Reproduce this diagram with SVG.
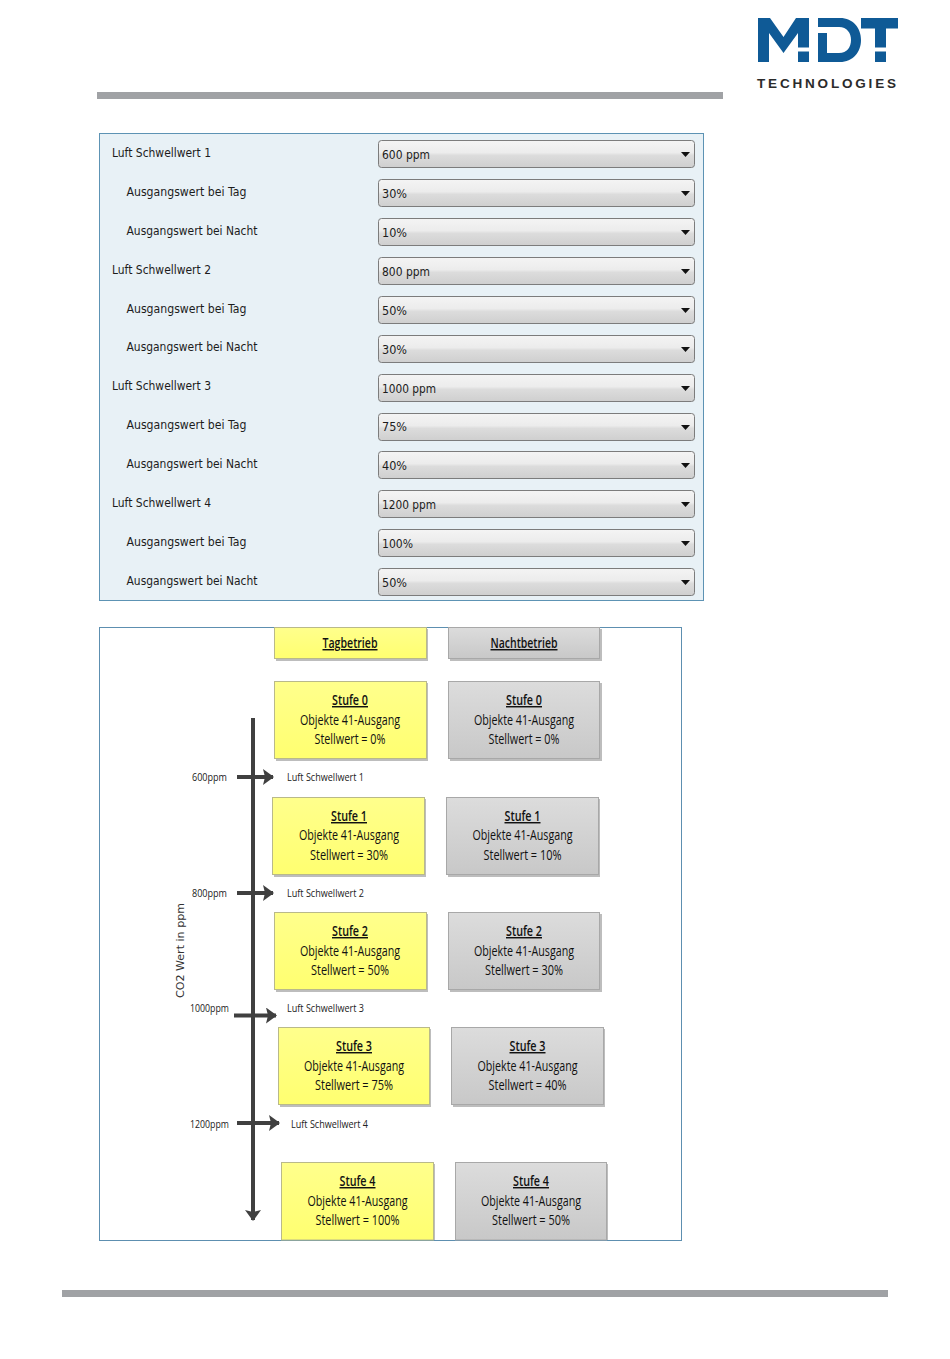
<svg xmlns="http://www.w3.org/2000/svg" width="950" height="1359" viewBox="0 0 950 1359">
<style>
.ui{font-family:"DejaVu Sans","Liberation Sans",sans-serif;font-size:12px;fill:#1c1c1c}
.c{font-family:"Open Sans","Liberation Sans",sans-serif;fill:#111;text-anchor:middle;font-size:14.500px}
.h{font-weight:600;text-decoration:underline}
.s{font-family:"Open Sans","Liberation Sans",sans-serif;fill:#222;font-size:11.500px}
.y{fill:url(#gy);stroke:#b9b98a;stroke-width:1}
.g{fill:url(#gg);stroke:#a8a8a8;stroke-width:1}
.sh{fill:#bdbdbd}
.dd{fill:url(#gd);stroke:#7c7c7c;stroke-width:1}
.ar{fill:#111}
.cn{stroke:#404040;stroke-width:4;fill:none}
.bar{fill:#a0a2a5}
</style>
<defs>
<linearGradient id="gy" x1="0" y1="0" x2="0" y2="1"><stop offset="0" stop-color="#ffff8c"/><stop offset="1" stop-color="#ffff70"/></linearGradient>
<linearGradient id="gg" x1="0" y1="0" x2="0" y2="1"><stop offset="0" stop-color="#dcdcdc"/><stop offset="1" stop-color="#c8c8c8"/></linearGradient>
<linearGradient id="gd" x1="0" y1="0" x2="0" y2="1"><stop offset="0" stop-color="#f4f4f4"/><stop offset="0.45" stop-color="#ececec"/><stop offset="0.55" stop-color="#dcdcdc"/><stop offset="1" stop-color="#cfcfcf"/></linearGradient>
<marker id="ah" markerUnits="userSpaceOnUse" markerWidth="12" markerHeight="16" refX="10" refY="8" orient="auto"><path d="M0 0L11 8L0 16L2 8Z" fill="#404040"/></marker>
</defs>
<rect width="950" height="1359" fill="#fff"/>
<g id="logo">
<path fill="#0f5a96" d="M758 18H770L783.500 37L796 18H809V47.500H798V33L783.500 53L769 33V62H758Z"/>
<rect x="798" y="51.500" width="11" height="10.500" fill="#0f5a96"/>
<path fill="#0f5a96" fill-rule="evenodd" d="M818 18H840C853 18 861 28 861 40C861 52 853 62 840 62H818V33H827V53H839C847 53 851 47 851 40C851 33 847 27 839 27H818Z"/>
<path fill="#0f5a96" d="M861 18H898V28.500H886V47.500H875V28.500H861Z"/>
<rect x="875" y="51.500" width="11" height="10.500" fill="#0f5a96"/>
<text x="757" y="87.500" font-family="Liberation Sans,sans-serif" font-size="13.500" font-weight="700" fill="#2b2b2b" textLength="139" lengthAdjust="spacing">TECHNOLOGIES</text>
</g>
<rect class="bar" x="97" y="92" width="626" height="7"/>
<rect class="bar" x="62" y="1290" width="826" height="7"/>
<g id="param-panel">
<rect x="99.500" y="133.500" width="604" height="467" fill="#e8f1f6" stroke="#5d93b4"/>
<g id="r1"><text class="ui" x="112" y="157" textLength="99" lengthAdjust="spacingAndGlyphs">Luft Schwellwert 1</text><rect class="dd" x="378.500" y="140.500" width="316" height="27" rx="3"/><text class="ui" x="382" y="159" textLength="48" lengthAdjust="spacingAndGlyphs">600 ppm</text><path class="ar" d="M681 152h9l-4.500 5z"/></g>
<g id="r2"><text class="ui" x="126.500" y="196" textLength="120" lengthAdjust="spacingAndGlyphs">Ausgangswert bei Tag</text><rect class="dd" x="378.500" y="179.500" width="316" height="27" rx="3"/><text class="ui" x="382" y="198" textLength="25" lengthAdjust="spacingAndGlyphs">30%</text><path class="ar" d="M681 191h9l-4.500 5z"/></g>
<g id="r3"><text class="ui" x="126.500" y="235" textLength="131" lengthAdjust="spacingAndGlyphs">Ausgangswert bei Nacht</text><rect class="dd" x="378.500" y="218.500" width="316" height="27" rx="3"/><text class="ui" x="382" y="237" textLength="25" lengthAdjust="spacingAndGlyphs">10%</text><path class="ar" d="M681 230h9l-4.500 5z"/></g>
<g id="r4"><text class="ui" x="112" y="274" textLength="99" lengthAdjust="spacingAndGlyphs">Luft Schwellwert 2</text><rect class="dd" x="378.500" y="257.500" width="316" height="27" rx="3"/><text class="ui" x="382" y="276" textLength="48" lengthAdjust="spacingAndGlyphs">800 ppm</text><path class="ar" d="M681 269h9l-4.500 5z"/></g>
<g id="r5"><text class="ui" x="126.500" y="313" textLength="120" lengthAdjust="spacingAndGlyphs">Ausgangswert bei Tag</text><rect class="dd" x="378.500" y="296.500" width="316" height="27" rx="3"/><text class="ui" x="382" y="315" textLength="25" lengthAdjust="spacingAndGlyphs">50%</text><path class="ar" d="M681 308h9l-4.500 5z"/></g>
<g id="r6"><text class="ui" x="126.500" y="351" textLength="131" lengthAdjust="spacingAndGlyphs">Ausgangswert bei Nacht</text><rect class="dd" x="378.500" y="335.500" width="316" height="27" rx="3"/><text class="ui" x="382" y="354" textLength="25" lengthAdjust="spacingAndGlyphs">30%</text><path class="ar" d="M681 347h9l-4.500 5z"/></g>
<g id="r7"><text class="ui" x="112" y="390" textLength="99" lengthAdjust="spacingAndGlyphs">Luft Schwellwert 3</text><rect class="dd" x="378.500" y="374.500" width="316" height="27" rx="3"/><text class="ui" x="382" y="393" textLength="54" lengthAdjust="spacingAndGlyphs">1000 ppm</text><path class="ar" d="M681 386h9l-4.500 5z"/></g>
<g id="r8"><text class="ui" x="126.500" y="429" textLength="120" lengthAdjust="spacingAndGlyphs">Ausgangswert bei Tag</text><rect class="dd" x="378.500" y="413.500" width="316" height="27" rx="3"/><text class="ui" x="382" y="431" textLength="25" lengthAdjust="spacingAndGlyphs">75%</text><path class="ar" d="M681 425h9l-4.500 5z"/></g>
<g id="r9"><text class="ui" x="126.500" y="468" textLength="131" lengthAdjust="spacingAndGlyphs">Ausgangswert bei Nacht</text><rect class="dd" x="378.500" y="451.500" width="316" height="27" rx="3"/><text class="ui" x="382" y="470" textLength="25" lengthAdjust="spacingAndGlyphs">40%</text><path class="ar" d="M681 463h9l-4.500 5z"/></g>
<g id="r10"><text class="ui" x="112" y="507" textLength="99" lengthAdjust="spacingAndGlyphs">Luft Schwellwert 4</text><rect class="dd" x="378.500" y="490.500" width="316" height="27" rx="3"/><text class="ui" x="382" y="509" textLength="54" lengthAdjust="spacingAndGlyphs">1200 ppm</text><path class="ar" d="M681 502h9l-4.500 5z"/></g>
<g id="r11"><text class="ui" x="126.500" y="546" textLength="120" lengthAdjust="spacingAndGlyphs">Ausgangswert bei Tag</text><rect class="dd" x="378.500" y="529.500" width="316" height="27" rx="3"/><text class="ui" x="382" y="548" textLength="31" lengthAdjust="spacingAndGlyphs">100%</text><path class="ar" d="M681 541h9l-4.500 5z"/></g>
<g id="r12"><text class="ui" x="126.500" y="585" textLength="131" lengthAdjust="spacingAndGlyphs">Ausgangswert bei Nacht</text><rect class="dd" x="378.500" y="568.500" width="316" height="27" rx="3"/><text class="ui" x="382" y="587" textLength="25" lengthAdjust="spacingAndGlyphs">50%</text><path class="ar" d="M681 580h9l-4.500 5z"/></g>
</g>
<g id="level-panel">
<rect x="99.500" y="627.500" width="582" height="613" fill="#fff" stroke="#5d8fb0"/>
</g>
<g id="n-tag"><rect class="sh" x="276" y="629" width="152" height="32"/><rect class="y" x="274.500" y="627.500" width="152" height="31"/><text class="c h" x="350" y="648" textLength="55" lengthAdjust="spacingAndGlyphs">Tagbetrieb</text></g>
<g id="n-nacht"><rect class="sh" x="450" y="629" width="152" height="32"/><rect class="g" x="448.500" y="627.500" width="151" height="31"/><text class="c h" x="524" y="648" textLength="67" lengthAdjust="spacingAndGlyphs">Nachtbetrieb</text></g>
<g id="n-t0"><rect class="sh" x="276" y="683" width="152" height="78"/><rect class="y" x="274.500" y="681.500" width="152" height="77"/><text class="c h" x="350" y="705" textLength="36" lengthAdjust="spacingAndGlyphs">Stufe 0</text><text class="c" x="350" y="725" textLength="100" lengthAdjust="spacingAndGlyphs">Objekte 41-Ausgang</text><text class="c" x="350" y="744" textLength="71" lengthAdjust="spacingAndGlyphs">Stellwert = 0%</text></g>
<g id="n-n0"><rect class="sh" x="450" y="683" width="152" height="78"/><rect class="g" x="448.500" y="681.500" width="151" height="77"/><text class="c h" x="524" y="705" textLength="36" lengthAdjust="spacingAndGlyphs">Stufe 0</text><text class="c" x="524" y="725" textLength="100" lengthAdjust="spacingAndGlyphs">Objekte 41-Ausgang</text><text class="c" x="524" y="744" textLength="71" lengthAdjust="spacingAndGlyphs">Stellwert = 0%</text></g>
<g id="n-t1"><rect class="sh" x="274" y="799" width="152" height="78"/><rect class="y" x="272.500" y="797.500" width="152" height="77"/><text class="c h" x="349" y="821" textLength="36" lengthAdjust="spacingAndGlyphs">Stufe 1</text><text class="c" x="349" y="840" textLength="100" lengthAdjust="spacingAndGlyphs">Objekte 41-Ausgang</text><text class="c" x="349" y="860" textLength="78" lengthAdjust="spacingAndGlyphs">Stellwert = 30%</text></g>
<g id="n-n1"><rect class="sh" x="448" y="799" width="152" height="78"/><rect class="g" x="446.500" y="797.500" width="152" height="77"/><text class="c h" x="522.500" y="821" textLength="36" lengthAdjust="spacingAndGlyphs">Stufe 1</text><text class="c" x="522.500" y="840" textLength="100" lengthAdjust="spacingAndGlyphs">Objekte 41-Ausgang</text><text class="c" x="522.500" y="860" textLength="78" lengthAdjust="spacingAndGlyphs">Stellwert = 10%</text></g>
<g id="n-t2"><rect class="sh" x="276" y="914" width="152" height="78"/><rect class="y" x="274.500" y="912.500" width="152" height="77"/><text class="c h" x="350" y="936" textLength="36" lengthAdjust="spacingAndGlyphs">Stufe 2</text><text class="c" x="350" y="956" textLength="100" lengthAdjust="spacingAndGlyphs">Objekte 41-Ausgang</text><text class="c" x="350" y="975" textLength="78" lengthAdjust="spacingAndGlyphs">Stellwert = 50%</text></g>
<g id="n-n2"><rect class="sh" x="450" y="914" width="152" height="78"/><rect class="g" x="448.500" y="912.500" width="151" height="77"/><text class="c h" x="524" y="936" textLength="36" lengthAdjust="spacingAndGlyphs">Stufe 2</text><text class="c" x="524" y="956" textLength="100" lengthAdjust="spacingAndGlyphs">Objekte 41-Ausgang</text><text class="c" x="524" y="975" textLength="78" lengthAdjust="spacingAndGlyphs">Stellwert = 30%</text></g>
<g id="n-t3"><rect class="sh" x="280" y="1029" width="151" height="78"/><rect class="y" x="278.500" y="1027.500" width="151" height="77"/><text class="c h" x="354" y="1051" textLength="36" lengthAdjust="spacingAndGlyphs">Stufe 3</text><text class="c" x="354" y="1071" textLength="100" lengthAdjust="spacingAndGlyphs">Objekte 41-Ausgang</text><text class="c" x="354" y="1090" textLength="78" lengthAdjust="spacingAndGlyphs">Stellwert = 75%</text></g>
<g id="n-n3"><rect class="sh" x="453" y="1029" width="152" height="78"/><rect class="g" x="451.500" y="1027.500" width="152" height="77"/><text class="c h" x="527.500" y="1051" textLength="36" lengthAdjust="spacingAndGlyphs">Stufe 3</text><text class="c" x="527.500" y="1071" textLength="100" lengthAdjust="spacingAndGlyphs">Objekte 41-Ausgang</text><text class="c" x="527.500" y="1090" textLength="78" lengthAdjust="spacingAndGlyphs">Stellwert = 40%</text></g>
<g id="n-t4"><rect class="sh" x="283" y="1164" width="152" height="76"/><rect class="y" x="281.500" y="1162.500" width="152" height="77.500"/><text class="c h" x="357.500" y="1186" textLength="36" lengthAdjust="spacingAndGlyphs">Stufe 4</text><text class="c" x="357.500" y="1206" textLength="100" lengthAdjust="spacingAndGlyphs">Objekte 41-Ausgang</text><text class="c" x="357.500" y="1225" textLength="84" lengthAdjust="spacingAndGlyphs">Stellwert = 100%</text></g>
<g id="n-n4"><rect class="sh" x="457" y="1164" width="151" height="76"/><rect class="g" x="455.500" y="1162.500" width="151" height="77.500"/><text class="c h" x="531" y="1186" textLength="36" lengthAdjust="spacingAndGlyphs">Stufe 4</text><text class="c" x="531" y="1206" textLength="100" lengthAdjust="spacingAndGlyphs">Objekte 41-Ausgang</text><text class="c" x="531" y="1225" textLength="78" lengthAdjust="spacingAndGlyphs">Stellwert = 50%</text></g>
<g id="connectors">
<line class="cn" x1="253" y1="718" x2="253" y2="1220" marker-end="url(#ah)"/>
<line class="cn" x1="237" y1="777" x2="273" y2="777" marker-end="url(#ah)"/>
<line class="cn" x1="237" y1="893" x2="273" y2="893" marker-end="url(#ah)"/>
<line class="cn" x1="234" y1="1015.500" x2="276" y2="1015.500" marker-end="url(#ah)"/>
<line class="cn" x1="237" y1="1123" x2="279" y2="1123" marker-end="url(#ah)"/>
</g>
<g id="labels">
<text class="s" x="192" y="781" textLength="35" lengthAdjust="spacingAndGlyphs">600ppm</text>
<text class="s" x="192" y="897" textLength="35" lengthAdjust="spacingAndGlyphs">800ppm</text>
<text class="s" x="190" y="1012" textLength="39" lengthAdjust="spacingAndGlyphs">1000ppm</text>
<text class="s" x="190" y="1128" textLength="39" lengthAdjust="spacingAndGlyphs">1200ppm</text>
<text class="s" x="287" y="781" textLength="77" lengthAdjust="spacingAndGlyphs">Luft Schwellwert 1</text>
<text class="s" x="287" y="897" textLength="77" lengthAdjust="spacingAndGlyphs">Luft Schwellwert 2</text>
<text class="s" x="287" y="1012" textLength="77" lengthAdjust="spacingAndGlyphs">Luft Schwellwert 3</text>
<text class="s" x="291" y="1128" textLength="77" lengthAdjust="spacingAndGlyphs">Luft Schwellwert 4</text>
<text x="184" y="998" transform="rotate(-90 184 998)" font-family="DejaVu Sans,sans-serif" font-size="10" fill="#333" textLength="95" lengthAdjust="spacingAndGlyphs">CO2 Wert in ppm</text>
</g>
</svg>
